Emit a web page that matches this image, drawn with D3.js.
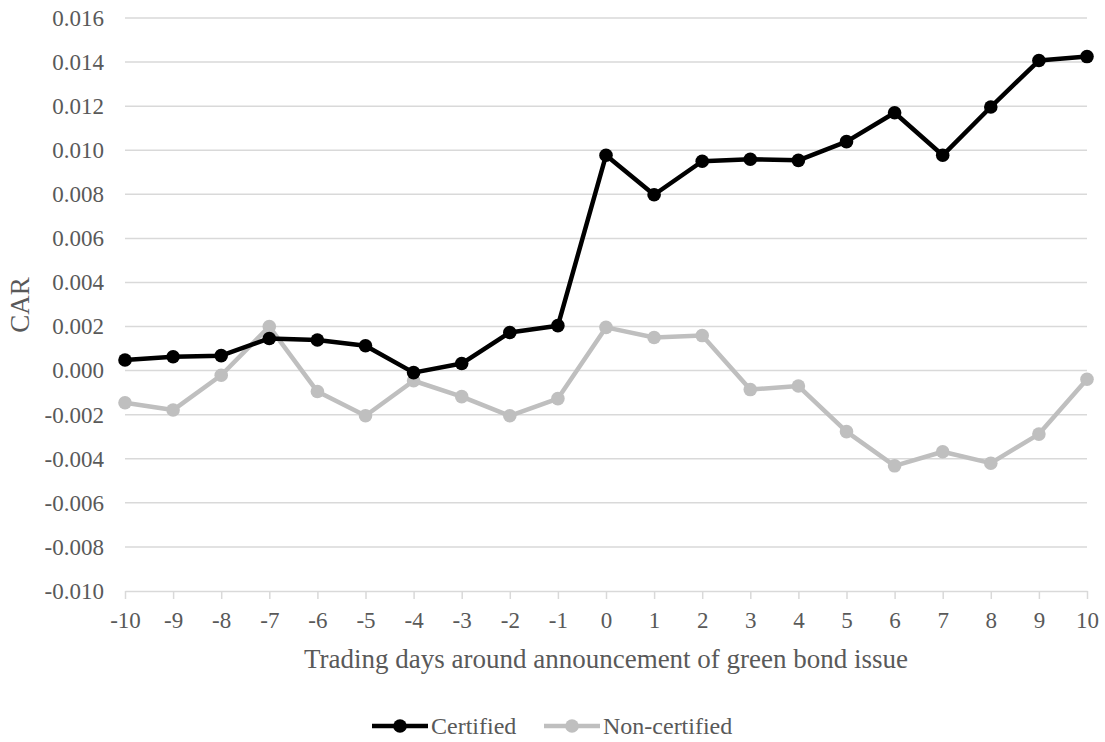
<!DOCTYPE html>
<html><head><meta charset="utf-8">
<script src="https://cdn.jsdelivr.net/npm/d3@7"></script>
<style>
html,body{margin:0;padding:0;background:#fff;}
</style></head>
<body><svg id="c" width="1105" height="742" font-family="Liberation Serif, Times New Roman, serif"></svg>
<script>
const days = [-10,-9,-8,-7,-6,-5,-4,-3,-2,-1,0,1,2,3,4,5,6,7,8,9,10];
const certified = [0.00048,0.00063,0.00068,0.00146,0.00139,0.00113,-0.00009,0.00032,0.00173,0.00204,
  0.00977,0.00798,0.0095,0.00959,0.00954,0.01039,0.0117,0.00977,0.01196,0.01407,0.01425];
const nonCertified = [-0.00146,-0.00179,-0.00021,0.002,-0.00095,-0.00205,-0.00046,-0.00118,-0.00205,-0.00127,
  0.00196,0.0015,0.00159,-0.00086,-0.0007,-0.00277,-0.00432,-0.00368,-0.0042,-0.00288,-0.00039];
const yTicks = [-0.010,-0.008,-0.006,-0.004,-0.002,0,0.002,0.004,0.006,0.008,0.010,0.012,0.014,0.016];
const seriesNames = ["Certified","Non-certified"];
const seriesColors = ["#000000","#bfbfbf"];

const FONT = "Liberation Serif";
const svg = d3.select("#c");
const L=125, R=1087, T=18, B=591;
const x = d3.scalePoint().domain(days).range([L,R]);
const y = d3.scaleLinear().domain([-0.010,0.016]).range([B,T]);
const fmt = d => d3.format(".3f")(d).replace("\u2212","-");

svg.append("g").selectAll("line").data(yTicks.filter(d=>d>-0.010)).join("line")
  .attr("x1",L).attr("x2",R).attr("y1",d=>y(d)).attr("y2",d=>y(d))
  .attr("stroke","#d9d9d9").attr("stroke-width",1.5);

const yAx = svg.append("g").attr("transform",`translate(${L},0)`)
  .call(d3.axisLeft(y).tickValues(yTicks).tickFormat(fmt).tickSize(0).tickPadding(21));
yAx.attr("font-family",FONT).attr("font-size",23);
yAx.select(".domain").remove();
yAx.selectAll("text").attr("font-family",FONT).attr("font-size",23).attr("fill","#595959");

const xAx = svg.append("g").attr("transform",`translate(0,${B})`)
  .call(d3.axisBottom(x).tickSize(8).tickPadding(13).tickSizeOuter(0));
xAx.attr("font-family",FONT).attr("font-size",23);
xAx.select(".domain").attr("stroke","#d9d9d9").attr("stroke-width",1.5);
xAx.selectAll(".tick line").attr("stroke","#d9d9d9").attr("stroke-width",1.5);
xAx.selectAll("text").attr("font-family",FONT).attr("font-size",23).attr("fill","#595959");

svg.append("text").attr("x",606).attr("y",668).attr("text-anchor","middle")
  .attr("font-family",FONT).attr("fill","#595959")
  .attr("font-size",27).text("Trading days around announcement of green bond issue");
svg.append("text").attr("transform","translate(29,305) rotate(-90)").attr("text-anchor","middle")
  .attr("font-family",FONT).attr("fill","#595959")
  .attr("font-size",27).text("CAR");

const line = d3.line().x((d,i)=>x(days[i])).y(d=>y(d));
[nonCertified, certified].forEach((vals,k)=>{
  const col = k===0 ? seriesColors[1] : seriesColors[0];
  svg.append("path").datum(vals).attr("d",line).attr("fill","none")
    .attr("stroke",col).attr("stroke-width",4.5).attr("stroke-linejoin","round");
  svg.append("g").selectAll("circle").data(vals).join("circle")
    .attr("cx",(d,i)=>x(days[i])).attr("cy",d=>y(d)).attr("r",6.8).attr("fill",col);
});

const leg = [{n:seriesNames[0],c:seriesColors[0],x0:372},{n:seriesNames[1],c:seriesColors[1],x0:544}];
leg.forEach(l=>{
  const g = svg.append("g");
  g.append("line").attr("x1",l.x0).attr("x2",l.x0+56).attr("y1",726).attr("y2",726)
    .attr("stroke",l.c).attr("stroke-width",4.5);
  g.append("circle").attr("cx",l.x0+28).attr("cy",726).attr("r",6.8).attr("fill",l.c);
  g.append("text").attr("x",l.x0+59).attr("y",734).attr("font-size",24)
    .attr("font-family",FONT).attr("fill","#595959").text(l.n);
});
</script></body></html>
